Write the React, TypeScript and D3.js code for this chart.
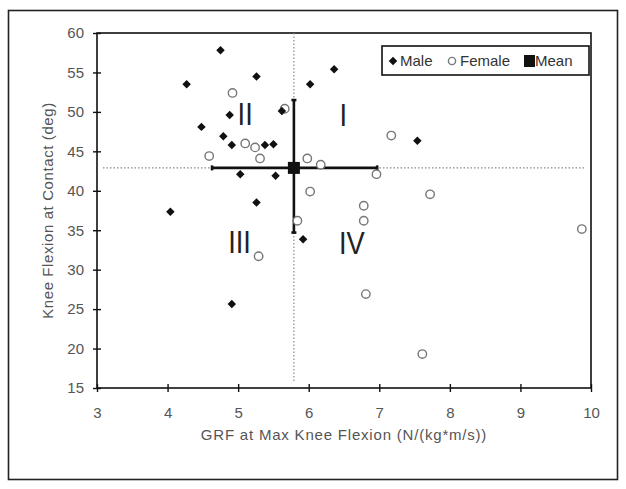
import React, { useRef, useEffect } from 'react';
import * as d3 from 'd3';

// GRF at max knee flexion (N/(kg*m/s)) vs knee flexion at contact (deg)
const maleX = [4.75, 4.27, 5.26, 6.02, 6.36, 4.88, 5.62, 4.48, 4.79, 4.91, 5.38, 5.50, 5.03, 5.53, 4.04, 5.26, 5.92, 4.91, 7.54];
const maleY = [57.8, 53.5, 54.5, 53.5, 55.4, 49.6, 50.1, 48.1, 46.9, 45.8, 45.8, 45.9, 42.1, 41.9, 37.35, 38.5, 33.85, 25.65, 46.35];

const femaleX = [4.92, 5.66, 4.59, 5.10, 5.24, 5.31, 5.98, 6.17, 6.02, 7.17, 6.96, 7.72, 5.84, 5.29, 6.78, 6.78, 9.87, 6.81, 7.61];
const femaleY = [52.4, 50.4, 44.4, 46.0, 45.5, 44.1, 44.1, 43.3, 39.9, 47.0, 42.1, 39.55, 36.2, 31.7, 38.1, 36.2, 35.15, 26.9, 19.3];

const meanX = 5.79;
const meanY = 42.9;
const errX = [4.63, 6.97];
const errY = [34.7, 51.5];

const xTicks = [3, 4, 5, 6, 7, 8, 9, 10];
const yTicks = [15, 20, 25, 30, 35, 40, 45, 50, 55, 60];

const quadLabels = ['I', 'II', 'III', 'IV'];
const quadX = [6.49, 5.10, 5.02, 6.61];
const quadY = [48.2, 48.3, 32.1, 32.0];

const W = 626;
const H = 489;

const App = () => {
  const svgRef = useRef<SVGSVGElement>(null);

  useEffect(() => {
    const svg = d3.select(svgRef.current);
    svg.selectAll('*').remove();

    const margin = { top: 33, right: 35, bottom: 101, left: 97 };
    const innerW = W - margin.left - margin.right;
    const innerH = H - margin.top - margin.bottom;
    const font = 'Liberation Sans, Arial, sans-serif';

    // outer frame
    svg.append('rect')
      .attr('x', 8.5).attr('y', 10.5)
      .attr('width', 609).attr('height', 469)
      .attr('fill', 'white')
      .attr('stroke', '#222')
      .attr('stroke-width', 1.6);

    const g = svg.append('g')
      .attr('transform', `translate(${margin.left},${margin.top})`);

    const x = d3.scaleLinear().domain([3, 10]).range([0, innerW]);
    const y = d3.scaleLinear().domain([15, 60]).range([innerH, 0]);

    // plot box
    g.append('rect')
      .attr('width', innerW).attr('height', innerH)
      .attr('fill', 'none')
      .attr('stroke', '#111')
      .attr('stroke-width', 1.6);

    // axes with ticks crossing the line
    const xAxis = g.append('g')
      .attr('transform', `translate(0,${innerH})`)
      .call(d3.axisBottom(x).tickValues(xTicks).tickSize(4).tickPadding(15).tickFormat(d3.format('d')));
    xAxis.select('.domain').remove();
    xAxis.selectAll('.tick line').attr('y1', -4).attr('stroke', '#111').attr('stroke-width', 1.4);
    xAxis.selectAll('.tick text')
      .attr('font-family', font).attr('font-size', 15).attr('fill', '#555');

    const yAxis = g.append('g')
      .call(d3.axisLeft(y).tickValues(yTicks).tickSize(4).tickPadding(9).tickFormat(d3.format('d')));
    yAxis.select('.domain').remove();
    yAxis.selectAll('.tick line').attr('x1', 4).attr('x2', -4).attr('stroke', '#111').attr('stroke-width', 1.4);
    yAxis.selectAll('.tick text')
      .attr('font-family', font).attr('font-size', 15).attr('fill', '#555');

    // dotted mean reference lines
    g.append('line')
      .attr('x1', x(meanX)).attr('x2', x(meanX))
      .attr('y1', 0).attr('y2', innerH - 6)
      .attr('stroke', '#888').attr('stroke-width', 1.2)
      .attr('stroke-dasharray', '1.5,2');
    g.append('line')
      .attr('x1', 6).attr('x2', innerW - 6)
      .attr('y1', y(meanY)).attr('y2', y(meanY))
      .attr('stroke', '#888').attr('stroke-width', 1.2)
      .attr('stroke-dasharray', '1.5,2');

    // quadrant labels
    g.selectAll('.quad')
      .data(quadLabels)
      .enter()
      .append('text')
      .attr('class', 'quad')
      .attr('transform', (d, i) => `translate(${x(quadX[i])},${y(quadY[i])}) scale(0.88,1)`)
      .attr('text-anchor', 'middle')
      .attr('font-family', font)
      .attr('font-size', 31)
      .attr('fill', '#222')
      .text(d => d);

    // error bars
    const eb = g.append('g').attr('stroke', '#111').attr('stroke-width', 2.6);
    eb.append('line')
      .attr('x1', x(errX[0])).attr('x2', x(errX[1]))
      .attr('y1', y(meanY)).attr('y2', y(meanY));
    eb.append('line')
      .attr('x1', x(meanX)).attr('x2', x(meanX))
      .attr('y1', y(errY[0])).attr('y2', y(errY[1]));
    errX.forEach(v => {
      eb.append('line')
        .attr('x1', x(v)).attr('x2', x(v))
        .attr('y1', y(meanY) - 2.5).attr('y2', y(meanY) + 2.5);
    });
    errY.forEach(v => {
      eb.append('line')
        .attr('x1', x(meanX) - 2.5).attr('x2', x(meanX) + 2.5)
        .attr('y1', y(v)).attr('y2', y(v));
    });

    const diamond = d3.symbol().type(d3.symbolDiamond2).size(46);

    // female points
    g.selectAll('.female')
      .data(femaleX)
      .enter()
      .append('circle')
      .attr('class', 'female')
      .attr('cx', d => x(d))
      .attr('cy', (d, i) => y(femaleY[i]))
      .attr('r', 4.2)
      .attr('fill', 'white')
      .attr('stroke', '#777')
      .attr('stroke-width', 1.4);

    // male points
    g.selectAll('.male')
      .data(maleX)
      .enter()
      .append('path')
      .attr('class', 'male')
      .attr('d', diamond)
      .attr('transform', (d, i) => `translate(${x(d)},${y(maleY[i])})`)
      .attr('fill', '#111');

    // mean marker
    g.append('rect')
      .attr('x', x(meanX) - 6).attr('y', y(meanY) - 6)
      .attr('width', 12).attr('height', 12)
      .attr('fill', '#111');

    // axis titles
    svg.append('text')
      .attr('x', margin.left + innerW / 2)
      .attr('y', 440)
      .attr('text-anchor', 'middle')
      .attr('font-family', font).attr('font-size', 15).attr('fill', '#555')
      .attr('letter-spacing', 0.8)
      .text('GRF at Max Knee Flexion (N/(kg*m/s))');

    svg.append('text')
      .attr('transform', `translate(53,${margin.top + innerH / 2}) rotate(-90)`)
      .attr('text-anchor', 'middle')
      .attr('font-family', font).attr('font-size', 15).attr('fill', '#555')
      .attr('letter-spacing', 0.6)
      .text('Knee Flexion at Contact (deg)');

    // legend
    const lg = svg.append('g').attr('transform', 'translate(382,46)');
    lg.append('rect')
      .attr('width', 207).attr('height', 29)
      .attr('fill', 'white')
      .attr('stroke', '#111').attr('stroke-width', 1.6);
    lg.append('path')
      .attr('d', diamond)
      .attr('transform', 'translate(11,15)')
      .attr('fill', '#111');
    lg.append('text').attr('x', 18).attr('y', 20)
      .attr('font-family', font).attr('font-size', 15).attr('fill', '#333')
      .text('Male');
    lg.append('circle')
      .attr('cx', 70).attr('cy', 15).attr('r', 3.6)
      .attr('fill', 'white').attr('stroke', '#777').attr('stroke-width', 1.4);
    lg.append('text').attr('x', 78).attr('y', 20)
      .attr('font-family', font).attr('font-size', 15).attr('fill', '#333')
      .text('Female');
    lg.append('rect')
      .attr('x', 142).attr('y', 9).attr('width', 11).attr('height', 12)
      .attr('fill', '#111');
    lg.append('text').attr('x', 153).attr('y', 20)
      .attr('font-family', font).attr('font-size', 15).attr('fill', '#333')
      .text('Mean');
  }, []);

  return (
    <svg
      ref={svgRef}
      width={W}
      height={H}
      style={{ position: 'absolute', left: 0, top: 0, background: 'white' }}
    ></svg>
  );
};

export default App;
